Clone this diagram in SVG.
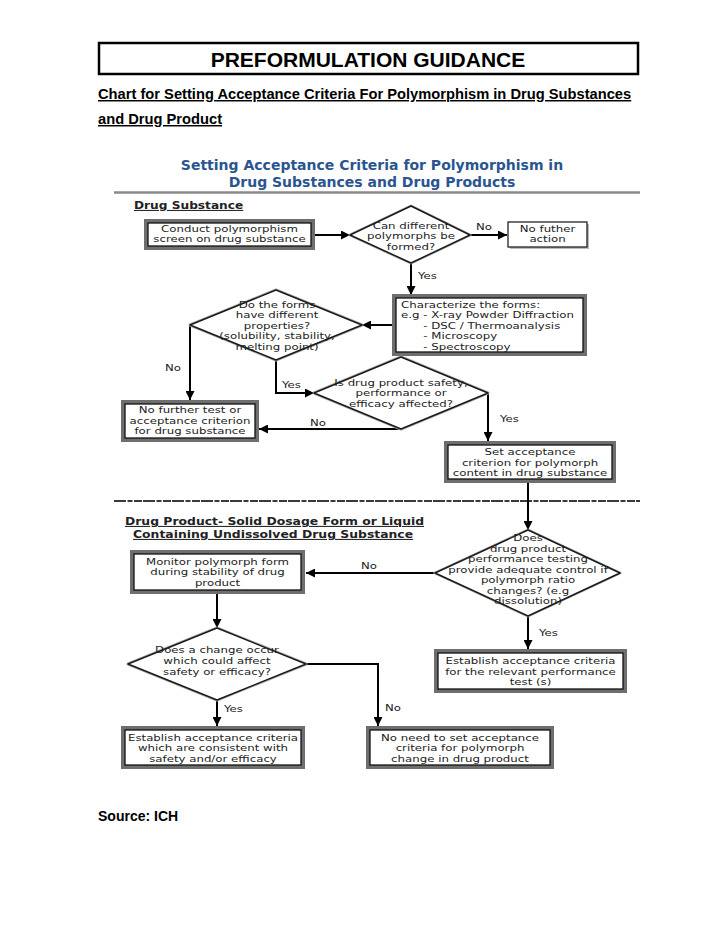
<svg xmlns="http://www.w3.org/2000/svg" width="728" height="943" viewBox="0 0 728 943">
<defs>
<style>
.hd{font-family:"Liberation Sans",Arial,sans-serif;font-weight:bold;fill:#000}
.bt{font-family:"DejaVu Sans",Verdana,sans-serif;font-weight:bold;fill:#2a5590;font-size:14px;text-anchor:middle}
.sec{font-family:"DejaVu Sans",Verdana,sans-serif;font-weight:bold;fill:#222;font-size:10.5px;text-decoration:underline}
.t{font-family:"DejaVu Sans",Verdana,sans-serif;font-size:9px;fill:#222;text-anchor:middle}
.tl{font-family:"DejaVu Sans",Verdana,sans-serif;font-size:9px;fill:#222}
.lb{font-family:"DejaVu Sans",Verdana,sans-serif;font-size:9.5px;fill:#222}
.frame{fill:none;stroke:#6e6e6e;stroke-width:4}
.box{fill:#fff;stroke:#111;stroke-width:1.3}
.dsh{fill:none;stroke:#aaa;stroke-width:3;stroke-linejoin:round}
.dia{fill:#fff;stroke:#1a1a1a;stroke-width:1.5;stroke-linejoin:round}
.con{fill:none;stroke:#000;stroke-width:2;marker-end:url(#ah)}
</style>
<marker id="ah" viewBox="0 0 10 10" refX="10" refY="5" markerWidth="9" markerHeight="9" markerUnits="userSpaceOnUse" orient="auto"><path d="M0,0 L10,5 L0,10 z" fill="#000"/></marker>
</defs>
<rect width="728" height="943" fill="#fff"/>

<g id="header">
<rect x="99" y="43" width="539" height="31" fill="none" stroke="#000" stroke-width="2.5"/>
<text class="hd" x="368" y="66.5" font-size="21" text-anchor="middle">PREFORMULATION GUIDANCE</text>
<text class="hd" x="98" y="99" font-size="14.7" text-decoration="underline">Chart for Setting Acceptance Criteria For Polymorphism in Drug Substances</text>
<text class="hd" x="98" y="124" font-size="14.7" text-decoration="underline">and Drug Product</text>
</g>

<g id="chart-title">
<text class="bt" x="372" y="170">Setting Acceptance Criteria for Polymorphism in</text>
<text class="bt" x="372" y="187">Drug Substances and Drug Products</text>
<line x1="114" y1="192.5" x2="640" y2="192.5" stroke="#8a8a8a" stroke-width="2.5"/>
<text class="sec" transform="translate(134 0) scale(1.16 1)" x="0" y="209">Drug Substance</text>
<line x1="114" y1="501" x2="640" y2="501" stroke="#3a3a3a" stroke-width="2" stroke-dasharray="12 1.5 5 1.5 8 1"/>
<text class="sec" transform="translate(125 0) scale(1.18 1)" x="0" y="525">Drug Product- Solid Dosage Form or Liquid </text>
<text class="sec" transform="translate(133 0) scale(1.18 1)" x="0" y="538">Containing Undissolved Drug Substance</text>
</g>

<g id="connectors">
<path class="con" d="M315,235 H350"/>
<path class="con" d="M470,235 H507"/>
<path class="con" d="M411,263 V295"/>
<path class="con" d="M392,325 H362"/>
<path class="con" d="M190,325 V400"/>
<path class="con" d="M276,360 V393 H314"/>
<path class="con" d="M401,429 H259"/>
<path class="con" d="M488,393 V441"/>
<path class="con" d="M528,483 V530"/>
<path class="con" d="M435,573 H306"/>
<path class="con" d="M528,616 V649"/>
<path class="con" d="M217,594 V628"/>
<path class="con" d="M217,700 V726"/>
<path class="con" d="M306,664 H378 V726"/>
</g>

<g id="labels">
<text class="lb" transform="translate(476 0) scale(1.24 1)" x="0" y="230">No</text>
<text class="lb" transform="translate(418 0) scale(1.24 1)" x="0" y="279">Yes</text>
<text class="lb" transform="translate(165 0) scale(1.24 1)" x="0" y="371">No</text>
<text class="lb" transform="translate(282 0) scale(1.24 1)" x="0" y="388">Yes</text>
<text class="lb" transform="translate(310 0) scale(1.24 1)" x="0" y="426">No</text>
<text class="lb" transform="translate(500 0) scale(1.24 1)" x="0" y="422">Yes</text>
<text class="lb" transform="translate(361 0) scale(1.24 1)" x="0" y="569">No</text>
<text class="lb" transform="translate(539 0) scale(1.24 1)" x="0" y="636">Yes</text>
<text class="lb" transform="translate(224 0) scale(1.24 1)" x="0" y="712">Yes</text>
<text class="lb" transform="translate(385 0) scale(1.24 1)" x="0" y="711">No</text>
</g>

<g id="n-screen">
<rect class="frame" x="146" y="221" width="167" height="27"/>
<rect class="box" x="148" y="223" width="163" height="23"/>
<g transform="translate(229.5 0) scale(1.31 1)">
<text class="t" x="0" y="232">Conduct polymorphism</text>
<text class="t" x="0" y="242.5">screen on drug substance</text>
</g>
</g>

<g id="d-formed">
<polygon class="dsh" points="411,206 470,235 411,263 350,235"/>
<polygon class="dia" points="411,206 470,235 411,263 350,235"/>
<g transform="translate(411 0) scale(1.31 1)">
<text class="t" x="0" y="229">Can different</text>
<text class="t" x="0" y="239.5">polymorphs be</text>
<text class="t" x="0" y="250">formed?</text>
</g>
</g>

<g id="n-noaction">
<rect x="510" y="224" width="79" height="25" fill="#bbb"/>
<rect x="508" y="222" width="79" height="25" fill="#fff" stroke="#111" stroke-width="1.2"/>
<g transform="translate(547.5 0) scale(1.31 1)">
<text class="t" x="0" y="232">No futher</text>
<text class="t" x="0" y="242.5">action</text>
</g>
</g>

<g id="n-characterize">
<rect class="frame" x="394" y="296" width="191" height="58"/>
<rect class="box" x="396" y="298" width="187" height="54"/>
<g transform="translate(401 0) scale(1.31 1)">
<text class="tl" x="0" y="308">Characterize the forms:</text>
<text class="tl" x="0" y="318.5">e.g - X-ray Powder Diffraction</text>
<text class="tl" x="17" y="329">- DSC / Thermoanalysis</text>
<text class="tl" x="17" y="339.5">- Microscopy</text>
<text class="tl" x="17" y="350">- Spectroscopy</text>
</g>
</g>

<g id="d-properties">
<polygon class="dsh" points="276,290 362,325 276,360 190,325"/>
<polygon class="dia" points="276,290 362,325 276,360 190,325"/>
<g transform="translate(277 0) scale(1.31 1)">
<text class="t" x="0" y="308">Do the forms</text>
<text class="t" x="0" y="318.5">have different</text>
<text class="t" x="0" y="329">properties?</text>
<text class="t" x="0" y="339.5">(solubility, stability,</text>
<text class="t" x="0" y="350">melting point)</text>
</g>
</g>

<g id="d-safety">
<polygon class="dsh" points="401,357 488,393 401,429 314,393"/>
<polygon class="dia" points="401,357 488,393 401,429 314,393"/>
<g transform="translate(401 0) scale(1.31 1)">
<text class="t" x="0" y="386">Is drug product safety,</text>
<text class="t" x="0" y="396.5">performance or</text>
<text class="t" x="0" y="407">efficacy affected?</text>
</g>
</g>

<g id="n-nofurthertest">
<rect class="frame" x="123" y="402" width="134" height="38"/>
<rect class="box" x="125" y="404" width="130" height="34"/>
<g transform="translate(190 0) scale(1.31 1)">
<text class="t" x="0" y="413.5">No further test or</text>
<text class="t" x="0" y="424">acceptance criterion</text>
<text class="t" x="0" y="434.5">for drug substance</text>
</g>
</g>

<g id="n-setcriterion">
<rect class="frame" x="446" y="443" width="168" height="38"/>
<rect class="box" x="448" y="445" width="164" height="34"/>
<g transform="translate(530 0) scale(1.31 1)">
<text class="t" x="0" y="455.5">Set acceptance</text>
<text class="t" x="0" y="466">criterion for polymorph</text>
<text class="t" x="0" y="476.5">content in drug substance</text>
</g>
</g>

<g id="d-performance">
<polygon class="dsh" points="528,530 620,573 528,616 435,573"/>
<polygon class="dia" points="528,530 620,573 528,616 435,573"/>
<g transform="translate(528 0) scale(1.31 1)">
<text class="t" x="0" y="541.5">Does</text>
<text class="t" x="0" y="552">drug product</text>
<text class="t" x="0" y="562.5">performance testing</text>
<text class="t" x="0" y="573">provide adequate control if</text>
<text class="t" x="0" y="583.5">polymorph ratio</text>
<text class="t" x="0" y="594">changes? (e.g</text>
<text class="t" x="0" y="604.5">dissolution)</text>
</g>
</g>

<g id="n-monitor">
<rect class="frame" x="132" y="552" width="171" height="40"/>
<rect class="box" x="134" y="554" width="167" height="36"/>
<g transform="translate(217.5 0) scale(1.31 1)">
<text class="t" x="0" y="565">Monitor polymorph form</text>
<text class="t" x="0" y="575.5">during stability of drug</text>
<text class="t" x="0" y="586">product</text>
</g>
</g>

<g id="n-perftest">
<rect class="frame" x="436" y="651" width="189" height="40"/>
<rect class="box" x="438" y="653" width="185" height="36"/>
<g transform="translate(530.5 0) scale(1.31 1)">
<text class="t" x="0" y="664.5">Establish acceptance criteria</text>
<text class="t" x="0" y="675">for the relevant performance</text>
<text class="t" x="0" y="685.5">test (s)</text>
</g>
</g>

<g id="d-change">
<polygon class="dsh" points="217,628 306,664 217,700 128,664"/>
<polygon class="dia" points="217,628 306,664 217,700 128,664"/>
<g transform="translate(217 0) scale(1.31 1)">
<text class="t" x="0" y="653.5">Does a change occur</text>
<text class="t" x="0" y="664">which could affect</text>
<text class="t" x="0" y="674.5">safety or efficacy?</text>
</g>
</g>

<g id="n-consistent">
<rect class="frame" x="123" y="728" width="180" height="39"/>
<rect class="box" x="125" y="730" width="176" height="35"/>
<g transform="translate(213 0) scale(1.31 1)">
<text class="t" x="0" y="741">Establish acceptance criteria</text>
<text class="t" x="0" y="751.5">which are consistent with</text>
<text class="t" x="0" y="762">safety and/or efficacy</text>
</g>
</g>

<g id="n-noneed">
<rect class="frame" x="368" y="728" width="184" height="39"/>
<rect class="box" x="370" y="730" width="180" height="35"/>
<g transform="translate(460 0) scale(1.31 1)">
<text class="t" x="0" y="741">No need to set acceptance</text>
<text class="t" x="0" y="751.5">criteria for polymorph</text>
<text class="t" x="0" y="762">change in drug product</text>
</g>
</g>

<g id="footer">
<text class="hd" x="98" y="821" font-size="14">Source: ICH</text>
</g>
</svg>
